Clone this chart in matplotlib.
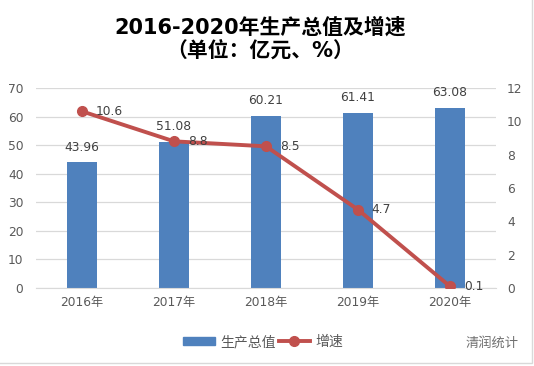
import matplotlib.pyplot as plt
import numpy as np
from matplotlib.lines import Line2D
from matplotlib.patches import Patch, Rectangle

plt.rcParams["font.family"] = ["DejaVu Sans", "Noto Sans CJK SC"]

years = ["2016年", "2017年", "2018年", "2019年", "2020年"]
gdp = [43.96, 51.08, 60.21, 61.41, 63.08]
growth = [10.6, 8.8, 8.5, 4.7, 0.1]

BLUE = "#4F81BD"
RED = "#C0504D"
TXT = "#595959"


def main():
    fig = plt.figure(figsize=(5.34, 3.66), dpi=100)
    ax = fig.add_axes([36 / 534, 1 - 288 / 366, 460 / 534, 200 / 366])
    ax2 = ax.twinx()

    x = np.arange(len(years))
    ax.bar(x, gdp, width=0.32, color=BLUE, zorder=2)
    for xi, v in zip(x, gdp):
        ax.text(xi, v + 3.0, f"{v:.2f}", ha="center", va="bottom",
                fontsize=8.8, color="#404040")

    ax2.plot(x, growth, color=RED, lw=2.8, marker="o", ms=7, zorder=3)
    for xi, v in zip(x, growth):
        ax2.text(xi + 0.15, v, f"{v:g}", ha="left", va="center",
                 fontsize=8.8, color="#404040")

    ax.set_xlim(-0.5, len(years) - 0.5)
    ax.set_ylim(0, 70)
    ax.set_yticks(range(0, 71, 10))
    ax2.set_ylim(0, 12)
    ax2.set_yticks(range(0, 13, 2))
    ax.set_xticks(x)
    ax.set_xticklabels(years)
    ax.yaxis.grid(True, color="#D9D9D9", lw=0.9, zorder=0)
    ax.set_axisbelow(True)
    ax2.set_zorder(ax.get_zorder() + 1)
    ax2.patch.set_visible(False)

    for a in (ax, ax2):
        for s in a.spines.values():
            s.set_visible(False)
        a.tick_params(length=0, labelsize=8.8, labelcolor=TXT)
    ax.spines["bottom"].set_visible(True)
    ax.spines["bottom"].set_color("#D9D9D9")
    ax.tick_params(axis="y", pad=9)
    ax.tick_params(axis="x", pad=6)
    ax2.tick_params(axis="y", pad=8)

    fig.text(0.487, 1 - 27 / 366, "2016-2020年生产总值及增速", ha="center",
             va="center", fontsize=15, fontweight="bold", color="black")
    fig.text(0.487, 1 - 51 / 366, "（单位：亿元、%）", ha="center",
             va="center", fontsize=15, fontweight="bold", color="black")

    handles = [
        Patch(color=BLUE),
        Line2D([0], [0], color=RED, lw=2.8, marker="o", ms=7),
    ]
    fig.legend(handles, ["生产总值", "增速"], loc="center",
               bbox_to_anchor=(0.493, 1 - 342 / 366), ncol=2, frameon=False,
               fontsize=10, labelcolor=TXT, handlelength=2.3, handleheight=0.55,
               columnspacing=0.2, handletextpad=0.35)

    fig.text(0.972, 1 - 343 / 366, "清润统计", ha="right", va="center",
             fontsize=9.5, color="#707070")

    fig.patches.append(Rectangle((-0.01, 3 / 366), (532 / 534) + 0.01, 1.02,
                                 transform=fig.transFigure, fill=False,
                                 edgecolor="#D9D9D9", lw=1))

    fig.savefig("out.png", dpi=100)


if __name__ == "__main__":
    main()
